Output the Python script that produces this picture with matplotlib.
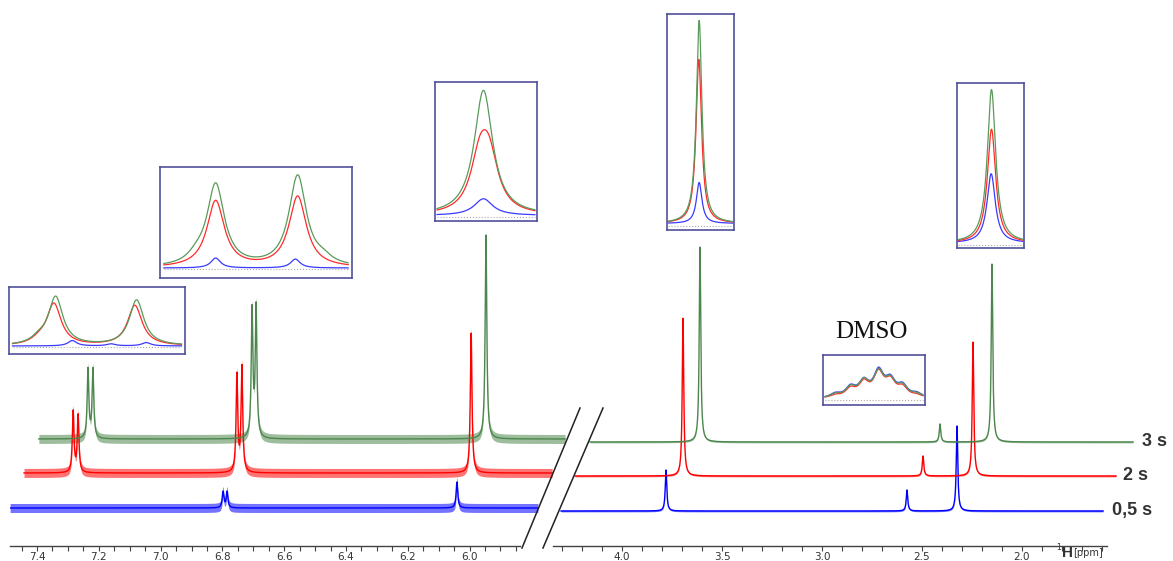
import matplotlib
matplotlib.use("Agg")
import matplotlib.pyplot as plt
from matplotlib.lines import Line2D
from matplotlib.ticker import FixedLocator, FormatStrFormatter
import numpy as np

W, H = 1173, 561

# trace colours and vertical stacking offsets (0,5 s / 2 s / 3 s)
series_names = ["0,5 s", "2 s", "3 s"]
series_colors = ["#0000ff", "#ff0000", "#4d874d"]
series_offsets = [0, 35, 69]

# left segment (aromatic region): peak positions (ppm) and heights
left_peaks = [
    ([6.798, 6.785, 6.041], [16, 16, 26]),
    ([7.283, 7.267, 6.753, 6.737, 5.995], [61, 57, 97, 105, 140]),
    ([7.235, 7.219, 6.704, 6.691, 5.947], [69, 69, 127, 130, 204]),
]
left_extent = [(7.487, 5.779), (7.442, 5.733), (7.394, 5.691)]
left_noise = 4.5

# right segment (aliphatic region)
right_peaks = [
    ([3.78, 2.575, 2.325], [41, 21, 85]),
    ([3.695, 2.495, 2.245], [158, 20, 134]),
    ([3.61, 2.41, 2.15], [195, 18, 178]),
]
right_extent = [(4.305, 1.595), (4.235, 1.53), (4.16, 1.445)]
right_noise = 0.9

left_major = [7.4, 7.2, 7.0, 6.8, 6.6, 6.4, 6.2, 6.0]
left_minor = list(np.round(np.arange(5.85, 7.46, 0.05), 2))
right_major = [4.0, 3.5, 3.0, 2.5, 2.0]
right_minor = list(np.round(np.arange(1.6, 4.31, 0.1), 1))

# zoomed insets: (box px), baseline, width, [(centres, heights) for blue, red, green]
dmso_pos = [0.12, 0.27, 0.40, 0.545, 0.66, 0.78, 0.92]
insets = [
    ((9, 287, 185, 354), 0.12, 0.05, [
        ([0.36, 0.58, 0.78], [0.08, 0.03, 0.05]),
        ([0.17, 0.255, 0.715], [0.06, 0.62, 0.60]),
        ([0.17, 0.265, 0.725], [0.08, 0.72, 0.68]),
    ]),
    ((160, 167, 352, 278), 0.09, 0.055, [
        ([0.29, 0.705], [0.09, 0.08]),
        ([0.29, 0.717], [0.60, 0.64]),
        ([0.19, 0.29, 0.717, 0.85], [0.06, 0.74, 0.82, 0.05]),
    ]),
    ((435, 82, 537, 221), 0.04, 0.11, [
        ([0.475], [0.12]),
        ([0.44, 0.53], [0.36, 0.36]),
        ([0.475], [0.90]),
    ]),
    ((667, 14, 734, 230), 0.03, 0.05, [
        ([0.48], [0.19]),
        ([0.475], [0.76]),
        ([0.48], [0.94]),
    ]),
    ((957, 83, 1024, 248), 0.03, 0.075, [
        ([0.51], [0.42]),
        ([0.515], [0.69]),
        ([0.515], [0.93]),
    ]),
    ((823, 355, 925, 405), 0.12, 0.06, [
        (dmso_pos, [0.08, 0.20, 0.30, 0.50, 0.32, 0.22, 0.08]),
        (dmso_pos, [0.05, 0.17, 0.28, 0.47, 0.30, 0.19, 0.05]),
        (dmso_pos, [0.07, 0.19, 0.30, 0.48, 0.31, 0.21, 0.07]),
    ]),
]
inset_colors = ["#3a3aff", "#ff2a2a", "#5a9a5a"]


def lorentz(x, centres, heights, hw):
    y = np.zeros_like(x)
    for c, h in zip(centres, heights):
        y += h * hw ** 2 / ((x - c) ** 2 + hw ** 2)
    return y


def box(x0, y0, x1, y1):
    return [x0 / W, 1 - y1 / H, (x1 - x0) / W, (y1 - y0) / H]


def ppm_left(x):
    return 7.4 - (x - 37) / 309.0


def ppm_right(x):
    return 4.0 - (x - 622) / 200.0


fig = plt.figure(figsize=(W / 100, H / 100), dpi=100)

ax_l = fig.add_axes(box(10, 0, 575, 546))
ax_r = fig.add_axes(box(553, 0, 1173, 546))

for ax, peaks, extent, noise, hw in [
    (ax_l, left_peaks, left_extent, left_noise, 0.0032),
    (ax_r, right_peaks, right_extent, right_noise, 0.0045),
]:
    for (cs, hs), (a, b), col, off in zip(peaks, extent, series_colors, series_offsets):
        x = np.linspace(a, b, 6000)
        y = off + lorentz(x, cs, hs, hw)
        ax.fill_between(x, y - noise, y + noise, color=col, alpha=0.55, lw=0)
        ax.plot(x, y, color=col, lw=1.0)
    ax.set_facecolor("none")
    for s in ["top", "left", "right"]:
        ax.spines[s].set_visible(False)
    ax.spines["bottom"].set_color("#444444")
    ax.spines["bottom"].set_linewidth(1.0)
    ax.set_yticks([])
    ax.tick_params(axis="x", which="both", direction="out", length=3.5, width=0.8,
                   color="#444444", labelsize=7.5, labelcolor="#333333", pad=0.5)

ax_l.set_xlim(ppm_left(10), ppm_left(575))
ax_l.set_ylim(-38, 508)
ax_l.spines["bottom"].set_bounds(ppm_left(10), ppm_left(520))
ax_l.xaxis.set_major_locator(FixedLocator(left_major))
ax_l.xaxis.set_minor_locator(FixedLocator(left_minor))
ax_l.xaxis.set_major_formatter(FormatStrFormatter("%.1f"))

ax_r.set_xlim(ppm_right(553), ppm_right(1173))
ax_r.set_ylim(-35, 511)
ax_r.spines["bottom"].set_bounds(ppm_right(553), ppm_right(1107))
ax_r.xaxis.set_major_locator(FixedLocator(right_major))
ax_r.xaxis.set_minor_locator(FixedLocator(right_minor))
ax_r.xaxis.set_major_formatter(FormatStrFormatter("%.1f"))

# series labels at the right end of each trace
label_x = [ppm_right(1112), ppm_right(1123), ppm_right(1142)]
for name, off, lx in zip(series_names, series_offsets, label_x):
    ax_r.text(lx, off, name, fontsize=13, fontweight="bold", color="#333333",
              family="Liberation Sans", va="center", ha="left")

# axis break marks
for (x0, y0, x1, y1) in [(522, 548, 580, 408), (543, 548, 603, 408)]:
    fig.add_artist(Line2D([x0 / W, x1 / W], [1 - y0 / H, 1 - y1 / H],
                          transform=fig.transFigure, color="#222222", lw=1.1))

# axis unit label
fig.text(1056 / W, 1 - 548 / H, "1", fontsize=5.5, color="#333333", va="center")
fig.text(1062 / W, 1 - 553 / H, "H", fontsize=11, fontweight="bold",
         family="Liberation Sans", color="#333333", va="center")
fig.text(1073 / W, 1 - 553 / H, "[ppm]", fontsize=7, color="#333333", va="center")

# DMSO label
fig.text(871 / W, 1 - 332 / H, "DMSO", fontsize=18, family="Liberation Serif",
         color="#111111", ha="center", va="center")

# zoomed insets
for (bx, base, hw, curves) in insets:
    ia = fig.add_axes(box(*bx))
    ia.set_facecolor("white")
    xi = np.linspace(0.02, 0.98, 400)
    ia.plot([0.02, 0.98], [base - 0.01, base - 0.01], ls=":", color="#aaaaaa", lw=0.8)
    for (cs, hs), col in zip(curves, inset_colors):
        w = hw if col != inset_colors[0] or len(cs) == 1 or len(cs) > 3 else 0.03
        ia.plot(xi, base + lorentz(xi, cs, hs, w), color=col, lw=0.9)
    ia.set_xlim(0, 1)
    ia.set_ylim(0, 1)
    ia.set_xticks([])
    ia.set_yticks([])
    for s in ia.spines.values():
        s.set_color("#50509a")
        s.set_linewidth(1.2)

fig.savefig("out.png", dpi=100)
